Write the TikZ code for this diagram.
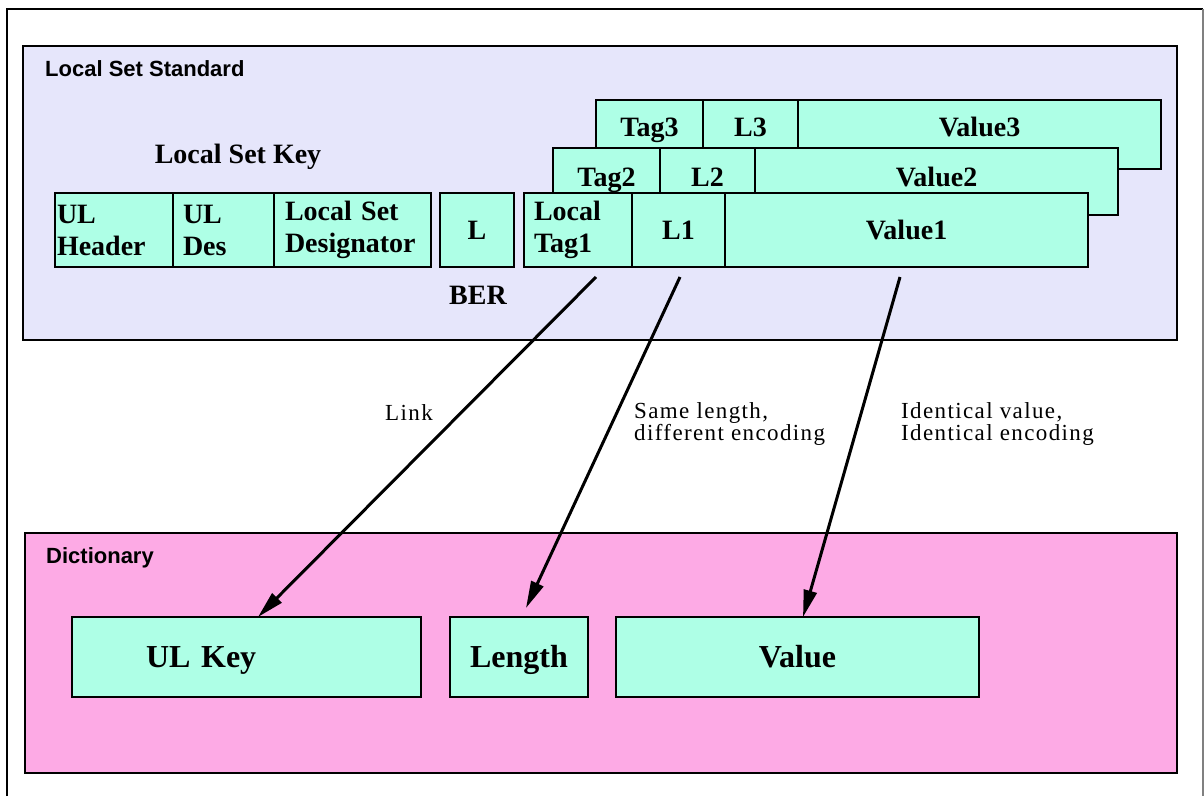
\documentclass[tikz,border=0pt]{standalone}
\usepackage{fontspec}
\setmainfont{Liberation Serif}
\setsansfont{Liberation Sans}
\usetikzlibrary{positioning,arrows.meta}
\definecolor{lavbg}{RGB}{230,230,251}
\definecolor{aqua}{RGB}{174,255,230}
\definecolor{pinkbg}{RGB}{253,170,229}
\tikzset{
  panel/.style={draw=black, line width=1.2pt, outer sep=0pt, inner sep=0pt, anchor=north west},
  cell/.style={draw=black, line width=1.2pt, fill=aqua, outer sep=0pt, inner sep=0pt,
    font=\fontsize{28}{32}\selectfont\bfseries},
  lcell/.style={cell, align=left},
  r1/.style={cell, minimum height=74pt, text height=20pt, text depth=1pt},
  r2/.style={cell, minimum height=67pt, text height=20pt, text depth=10pt},
  r3/.style={cell, minimum height=69pt, text height=20pt, text depth=16pt},
  dcell/.style={cell, minimum height=80pt, font=\fontsize{32}{36}\selectfont\bfseries,
    text height=22pt, text depth=1pt},
  ttl/.style={inner sep=0pt, anchor=west, font=\sffamily\bfseries\fontsize{22}{26}\selectfont},
  heading/.style={inner sep=0pt, font=\fontsize{28}{32}\selectfont\bfseries},
  note/.style={inner sep=0pt, anchor=west, align=left,
    font=\fontsize{23}{22}\selectfont\addfontfeatures{LetterSpace=6}},
  arr/.style={line width=3pt, -{Triangle[length=27pt,width=13pt]}}
}
\begin{document}
\begin{tikzpicture}[x=1pt,y=-1pt]
  \useasboundingbox (0,0) rectangle (1204,796);
  % frame
  \draw[line width=1.2pt] (7,796) -- (7,9) -- (1203,9);
  \draw[gray, line width=1.2pt] (1203,9) -- (1203,796);

  % local set standard
  \node[panel, fill=lavbg, minimum width=1154pt, minimum height=294pt] (lss) at (23,46) {};
  \node[ttl] (lsstitle) at (45,69) {Local Set Standard};
  \node[heading] (lskey) at (238,157) {Local Set Key};
  \node[heading] (ber) at (478,295) {BER};

  \node[lcell, anchor=north west, minimum height=74pt, inner xsep=2pt, text width=114pt] (hdr) at (55,193) {UL\\Header};
  \node[lcell, minimum height=74pt, inner xsep=10pt, text width=81pt, right=0pt of hdr] (des) {UL\\Des};
  \node[lcell, minimum height=74pt, inner xsep=11pt, text width=135pt, right=0pt of des] (lsd) {Local Set\\Designator};
  \node[cell, minimum height=74pt, minimum width=74pt, right=9pt of lsd] (lbox) {L};

  % triplets, back to front
  \node[r3, anchor=north west, minimum width=107pt] (t3) at (596,100) {Tag3};
  \node[r3, minimum width=95pt, right=0pt of t3] (l3) {L3};
  \node[r3, minimum width=363pt, right=0pt of l3] (v3) {Value3};

  \node[r2, anchor=north west, minimum width=107pt] (t2) at (553,148) {Tag2};
  \node[r2, minimum width=95pt, right=0pt of t2] (l2) {L2};
  \node[r2, minimum width=363pt, right=0pt of l2] (v2) {Value2};

  \node[lcell, minimum height=74pt, inner xsep=10pt, text width=88pt, right=10pt of lbox] (t1) {Local\\Tag1};
  \node[r1, minimum width=93pt, right=0pt of t1] (l1) {L1};
  \node[r1, minimum width=363pt, right=0pt of l1] (v1) {Value1};

  % dictionary
  \node[panel, fill=pinkbg, minimum width=1152pt, minimum height=240pt] (dict) at (25,533) {};
  \node[ttl] (dicttitle) at (46,558) {Dictionary};
  \node[dcell, anchor=north west, align=left, inner xsep=74pt, text width=201pt] (ulkey) at (72,617) {UL Key};
  \node[dcell, minimum width=138pt, right=29pt of ulkey] (len) {Length};
  \node[dcell, minimum width=363pt, right=28pt of len] (val) {Value};

  % mappings
  \coordinate (tfoot) at ([xshift=18pt,yshift=-10pt]t1.south);
  \coordinate (lfoot) at ([xshift=1.5pt,yshift=-10pt]l1.south);
  \coordinate (vfoot) at ([xshift=-6.5pt,yshift=-10pt]v1.south);
  \draw[arr] (tfoot) -- ([xshift=11.5pt]ulkey.north);
  \draw[arr] (lfoot) -- ([xshift=7pt,yshift=9pt]len.north);
  \draw[arr] (vfoot) -- ([xshift=5.5pt]val.north);

  \node[note] (link) at (385,413) {Link};
  \node[note] (samelen) at (634,424) {Same length,\\different encoding};
  \node[note] (identval) at (901,424) {Identical value,\\Identical encoding};
\end{tikzpicture}
\end{document}
